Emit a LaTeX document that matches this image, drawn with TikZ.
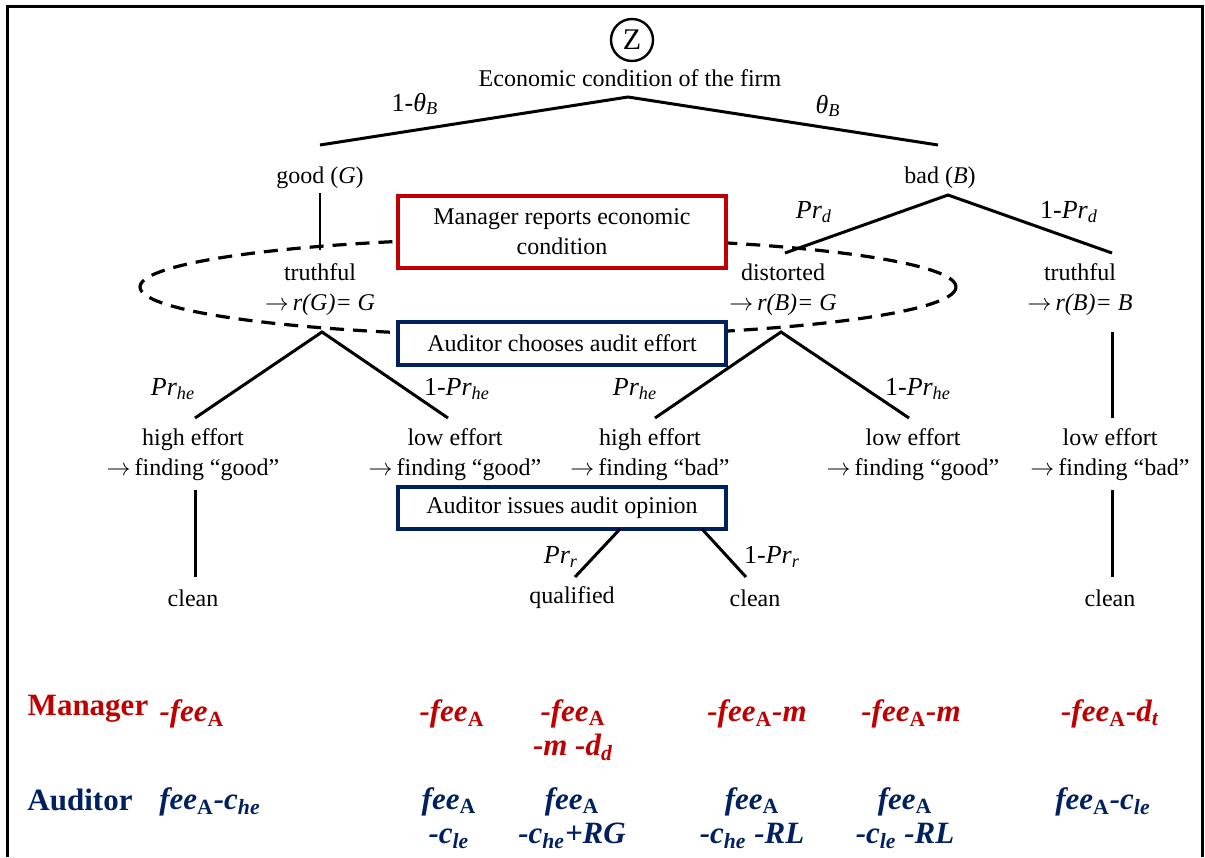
\documentclass[tikz,border=0pt]{standalone}
\usepackage{fontspec}
\setmainfont{Liberation Serif}
\usetikzlibrary{calc}

\definecolor{mgrred}{RGB}{192,0,0}
\definecolor{audblue}{RGB}{0,32,96}

\newcommand{\ix}[1]{\textsubscript{#1}}
\newcommand{\feeA}{\textit{fee}\ix{\upshape A}}
\newcommand{\pfeil}{$\rightarrow$}

\begin{document}
\begin{tikzpicture}[x=0.5pt,y=-0.5pt,
  txt/.style={inner sep=2pt,align=center,font=\fontsize{12}{15}\selectfont},
  wk/.style={inner sep=2pt,font=\fontsize{13}{15}\selectfont},
  ast/.style={line width=1.5pt},
  duenn/.style={line width=0.6pt},
  kasten/.style={draw,line width=1.6pt,fill=white,inner sep=0pt,align=center,
    minimum width=164pt,font=\fontsize{12}{15}\selectfont},
  pay/.style={inner sep=0pt,align=center,font=\fontsize{15.5}{17}\selectfont\bfseries\itshape},
  spieler/.style={inner sep=0pt,font=\fontsize{15.5}{17}\selectfont\bfseries}]

\useasboundingbox (0,0) rectangle (1205,857);

% Rahmen
\draw[line width=1.5pt] (7,857) -- (7,6) -- (1202,6) -- (1202,857);

% ------------------- Natur -------------------
\node[circle,draw,line width=1.2pt,minimum size=21pt,inner sep=0pt,
  font=\fontsize{15}{15}\selectfont] (zug) at (632,40) {Z};
\node[txt] (econ) at (630,78) {Economic condition of the firm};

\coordinate (wurzel) at (628,97);
\coordinate (gutE) at (320,145);
\coordinate (schlechtE) at (938,145);
\draw[ast] (gutE) -- (wurzel) -- (schlechtE);
\node[wk] (thl) at (415,104) {1-\textit{θ}\ix{\itshape B}};
\node[wk] (thr) at (828,106) {\textit{θ}\ix{\itshape B}};

\node[txt] (gut) at (320,178) {good (\textit{G})};
\node[txt] (schlecht) at (940,178) {bad (\textit{B})};

% ------------------- Manager -------------------
\coordinate (tg) at (320,250);
\draw[duenn] (gut.south) -- (tg);

\coordinate (bspitze) at (948,195);
\coordinate (verz) at (785,253);
\coordinate (wahrB) at (1112,253);
\draw[ast] (verz) -- (bspitze) -- (wahrB);
\node[wk] (prd) at (814,212) {\textit{Pr\ix{d}}};
\node[wk] (eprd) at (1069,212) {1-\textit{Pr\ix{d}}};

% Informationsmenge
\draw[line width=1.6pt,dash pattern=on 7pt off 4.5pt] (548,287) ellipse [x radius=408,y radius=49];

\node[kasten,draw=mgrred,minimum height=36pt] (mrep) at (562,232)
  {Manager reports economic\\condition};

\node[txt] (twG) at (320,290) {truthful\\\pfeil\,\textit{r(G)= G}};
\node[txt] (dis) at (783,290) {distorted\\\pfeil\,\textit{r(B)= G}};
\node[txt] (twB) at (1080,290) {truthful\\\pfeil\,\textit{r(B)= B}};

% ------------------- Auditor -------------------
\node[kasten,draw=audblue,minimum height=21.5pt] (aeff) at (562,343.5)
  {Auditor chooses audit effort};

\coordinate (s1) at (322,332);
\coordinate (s2) at (781,332);
\coordinate (s3) at (1112,332);
\coordinate (e1) at (195,418);
\coordinate (e2) at (448,418);
\coordinate (e3) at (655,418);
\coordinate (e4) at (909,418);
\coordinate (e5) at (1112,418);
\draw[ast] (e1) -- (s1) -- (e2);
\draw[ast] (e3) -- (s2) -- (e4);
\draw[ast] (s3) -- (e5);

\node[wk] (phe1) at (173,389) {\textit{Pr\ix{he}}};
\node[wk] (ephe1) at (457,389) {1-\textit{Pr\ix{he}}};
\node[wk] (phe2) at (635,389) {\textit{Pr\ix{he}}};
\node[wk] (ephe2) at (918,389) {1-\textit{Pr\ix{he}}};

\node[txt] (fa) at (193,455) {high effort\\\pfeil\,finding “good”};
\node[txt] (fb) at (455,455) {low effort\\\pfeil\,finding “good”};
\node[txt] (fc) at (650,455) {high effort\\\pfeil\,finding “bad”};
\node[txt] (fd) at (913,455) {low effort\\\pfeil\,finding “good”};
\node[txt] (fe) at (1110,455) {low effort\\\pfeil\,finding “bad”};

\node[kasten,draw=audblue,minimum height=21pt] (aop) at (562,508)
  {Auditor issues audit opinion};

% Prüfungsurteil
\coordinate (o1) at (195,490);
\coordinate (u1) at (195,577);
\coordinate (o2) at (620,529);
\coordinate (u2) at (575,577);
\coordinate (o3) at (702,529);
\coordinate (u3) at (746,577);
\coordinate (o4) at (1112,490);
\coordinate (u4) at (1112,577);
\draw[ast] (o1) -- (u1);
\draw[ast] (o2) -- (u2);
\draw[ast] (o3) -- (u3);
\draw[ast] (o4) -- (u4);
\node[wk] (prr) at (561,557) {\textit{Pr\ix{r}}};
\node[wk] (eprr) at (772,557) {1-\textit{Pr\ix{r}}};

\node[txt] (l1) at (193,598) {clean};
\node[txt] (l2) at (572,598) {qualified};
\node[txt] (l3) at (755,598) {clean};
\node[txt] (l4) at (1110,598) {clean};

% ------------------- Auszahlungen -------------------
\begin{scope}[mgrred]
  \node[spieler] (mgr) at (88,709) {Manager};
  \node[pay] (m1) at (192,714) {-\feeA};
  \node[pay] (m2) at (452,714) {-\feeA};
  \node[pay] (m3) at (573,730) {-\feeA\\-\textit{m} -\textit{d}\ix{d}};
  \node[pay] (m4) at (757,714) {-\feeA-\textit{m}};
  \node[pay] (m5) at (911,714) {-\feeA-\textit{m}};
  \node[pay] (m6) at (1110,714) {-\feeA-\textit{d}\ix{t}};
\end{scope}

\begin{scope}[audblue]
  \node[spieler] (aud) at (80,800) {Auditor};
  \node[pay] (a1) at (210,802) {\feeA-\textit{c}\ix{he}};
  \node[pay] (a2) at (449,818) {\feeA\\-\textit{c}\ix{le}};
  \node[pay] (a3) at (572,818) {\feeA\\-\textit{c}\ix{he}+\textit{RG}};
  \node[pay] (a4) at (752,818) {\feeA\\-\textit{c}\ix{he} -\textit{RL}};
  \node[pay] (a5) at (905,818) {\feeA\\-\textit{c}\ix{le} -\textit{RL}};
  \node[pay] (a6) at (1103,802) {\feeA-\textit{c}\ix{le}};
\end{scope}

\end{tikzpicture}
\end{document}
